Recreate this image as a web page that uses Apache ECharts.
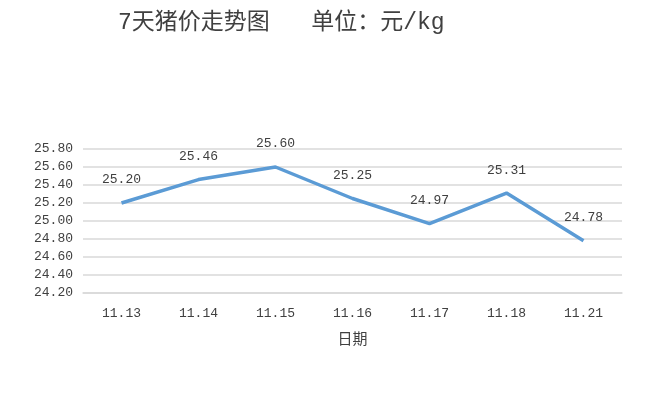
<!DOCTYPE html>
<html><head><meta charset="utf-8">
<script src="https://cdn.jsdelivr.net/npm/echarts@6/dist/echarts.min.js"></script>
<style>html,body{margin:0;padding:0;background:#fff}#c{width:650px;height:395px}</style>
</head><body><div id="c"></div>
<script>
const categories = ['11.13','11.14','11.15','11.16','11.17','11.18','11.21'];
const prices = [25.20, 25.46, 25.60, 25.25, 24.97, 25.31, 24.78];
const titleText = '7天猪价走势图   单位：元/kg';
const xName = '日期';
const yMin = 24.2, yMax = 25.8, yStep = 0.2;

const font = '"Liberation Mono","Noto Sans CJK SC",monospace';
const chart = echarts.init(document.getElementById('c'));
chart.setOption({
  animation: false,
  title: {text: titleText, left: 113, top: 6, textStyle: {fontFamily: font, fontSize: 23, fontWeight: 'normal', color: '#404040'}},
  grid: {left: 83, right: 28, top: 149, bottom: 102},
  xAxis: {
    type: 'category', data: categories, boundaryGap: true,
    name: xName, nameLocation: 'middle', nameGap: 40,
    nameTextStyle: {fontFamily: font, fontSize: 15, color: '#404040'},
    axisLine: {lineStyle: {color: '#d9d9d9', width: 1.5}},
    axisTick: {show: false},
    axisLabel: {fontFamily: font, fontSize: 13, color: '#404040', margin: 14}
  },
  yAxis: {
    type: 'value', min: yMin, max: yMax, interval: yStep,
    axisLine: {show: false}, axisTick: {show: false},
    splitLine: {lineStyle: {color: '#d9d9d9', width: 1.5}},
    axisLabel: {fontFamily: font, fontSize: 13, color: '#404040', margin: 10, formatter: v => v.toFixed(2)}
  },
  series: [{
    type: 'line', data: prices, symbol: 'circle', symbolSize: 1, showSymbol: true,
    itemStyle: {opacity: 0},
    lineStyle: {color: '#5b9bd5', width: 3.5},
    label: {show: true, position: 'top', distance: 16, fontFamily: font, fontSize: 13, color: '#404040', opacity: 1, formatter: p => p.value.toFixed(2)}
  }]
});
</script></body></html>
